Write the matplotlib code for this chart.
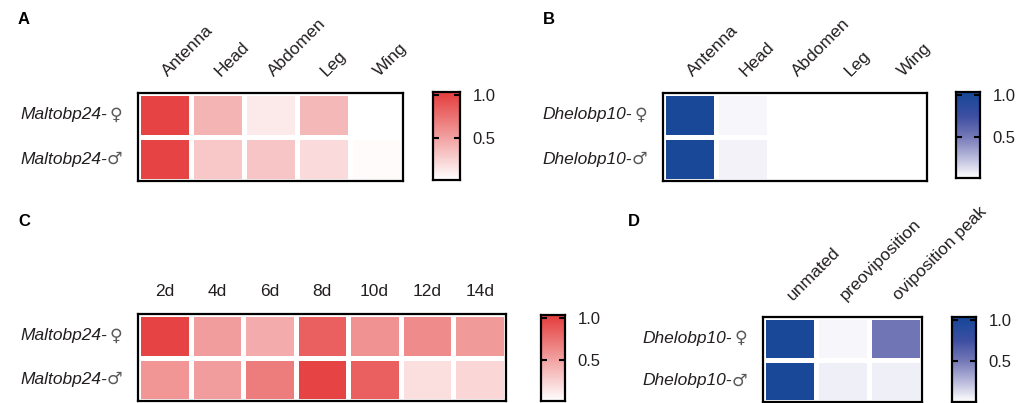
import numpy as np
import matplotlib
matplotlib.use('Agg')
import matplotlib.pyplot as plt
from matplotlib.colors import LinearSegmentedColormap

plt.rcParams['font.family'] = ['Liberation Sans', 'DejaVu Sans']

# data
tissues = ['Antenna', 'Head', 'Abdomen', 'Leg', 'Wing']
days = ['2d', '4d', '6d', '8d', '10d', '12d', '14d']
stages = ['unmated', 'preoviposition', 'oviposition peak']
genes = ['Maltobp24-', 'Dhelobp10-']
sexes = ['♀', '♂']

a_female = [1.0, 0.40, 0.12, 0.38, 0.0]
a_male = [1.0, 0.30, 0.31, 0.20, 0.02]
b_female = [1.0, 0.03, 0.0, 0.0, 0.0]
b_male = [1.0, 0.05, 0.0, 0.0, 0.0]
c_female = [1.0, 0.52, 0.45, 0.85, 0.58, 0.62, 0.54]
c_male = [0.57, 0.52, 0.70, 1.0, 0.85, 0.17, 0.22]
d_female = [1.0, 0.03, 0.52]
d_male = [1.0, 0.06, 0.06]

reds = LinearSegmentedColormap.from_list('reds', ['#FFFFFF', '#E64444'])
blues = LinearSegmentedColormap.from_list(
    'blues', [(0, '#FFFFFF'), (0.25, '#B8B9DB'), (0.5, '#7579B7'),
              (0.75, '#3E4FA2'), (1, '#1A4899')])

W, H = 1018, 403
TXT = '#231F20'
fig = plt.figure(figsize=(W / 100, H / 100), dpi=100)


def px(x0, y0, x1, y1):
    return [x0 / W, 1 - y1 / H, (x1 - x0) / W, (y1 - y0) / H]


def heat(box, data, cols, gene, cmap, rot):
    ax = fig.add_axes(px(*box))
    arr = np.array(data)
    ax.pcolormesh(arr, cmap=cmap, vmin=0, vmax=1, edgecolors='white', linewidth=2.5)
    ax.set_xlim(0, arr.shape[1])
    ax.set_ylim(arr.shape[0], 0)
    for s in ax.spines.values():
        s.set_linewidth(1.6)
    ax.set_yticks([])
    ax.set_xticks(np.arange(arr.shape[1]) + 0.5)
    ax.tick_params(length=0)
    ax.xaxis.tick_top()
    if rot:
        ax.set_xticklabels(cols, rotation=45, ha='left', va='center',
                           rotation_mode='anchor', fontsize=12.5, color=TXT)
        ax.tick_params(axis='x', pad=14)
    else:
        ax.set_xticklabels(cols, fontsize=12.5, color=TXT)
        ax.tick_params(axis='x', pad=11)
    # row labels: italic gene name + upright sex symbol
    x0, y0, x1, y1 = box
    xr = x0 - 16
    for i, sx in enumerate(sexes):
        yc = y0 + (y1 - y0) * (i + 0.5) / len(sexes)
        fig.text(xr / W, 1 - yc / H, sx, ha='right', va='center', fontsize=12.5,
                 family='DejaVu Sans', color='#5A5A5A')
        fig.text((xr - 15) / W, 1 - yc / H, gene, ha='right', va='center',
                 fontsize=12.5, style='italic', color=TXT)
    return ax


def cbar(box, cmap):
    ax = fig.add_axes(px(*box))
    grad = np.linspace(0, 1.04, 256).reshape(-1, 1)
    ax.imshow(grad, extent=[0, 1, 0, 1.04], origin='lower', aspect='auto',
              cmap=cmap, vmin=0, vmax=1)
    ax.set_xlim(0, 1)
    ax.set_ylim(0, 1.04)
    ax.set_xticks([])
    ax.set_yticks([0.5, 1.0])
    ax.set_yticklabels(['0.5', '1.0'], fontsize=12, color=TXT)
    ax.tick_params(axis='y', direction='in', length=4, width=1.5,
                   left=True, right=True, labelleft=False, labelright=True, pad=9)
    for s in ax.spines.values():
        s.set_linewidth(1.6)


heat((138, 93, 403, 181), [a_female, a_male], tissues, genes[0], reds, True)
cbar((433, 92, 460, 180), reds)
heat((663, 93, 927, 181), [b_female, b_male], tissues, genes[1], blues, True)
cbar((956, 92, 980, 178), blues)
heat((138, 314, 506, 401), [c_female, c_male], days, genes[0], reds, False)
cbar((541, 315, 565, 401), reds)
heat((763, 317, 922, 402), [d_female, d_male], stages, genes[1], blues, True)
cbar((952, 317, 976, 402), blues)

for x, y, t in [(18, 20, 'A'), (543, 20, 'B'), (18, 222, 'C'), (628, 222, 'D')]:
    fig.text(x / W, 1 - y / H, t, fontsize=12, fontweight='bold', va='center', ha='left')

fig.savefig('out.png', dpi=100)
